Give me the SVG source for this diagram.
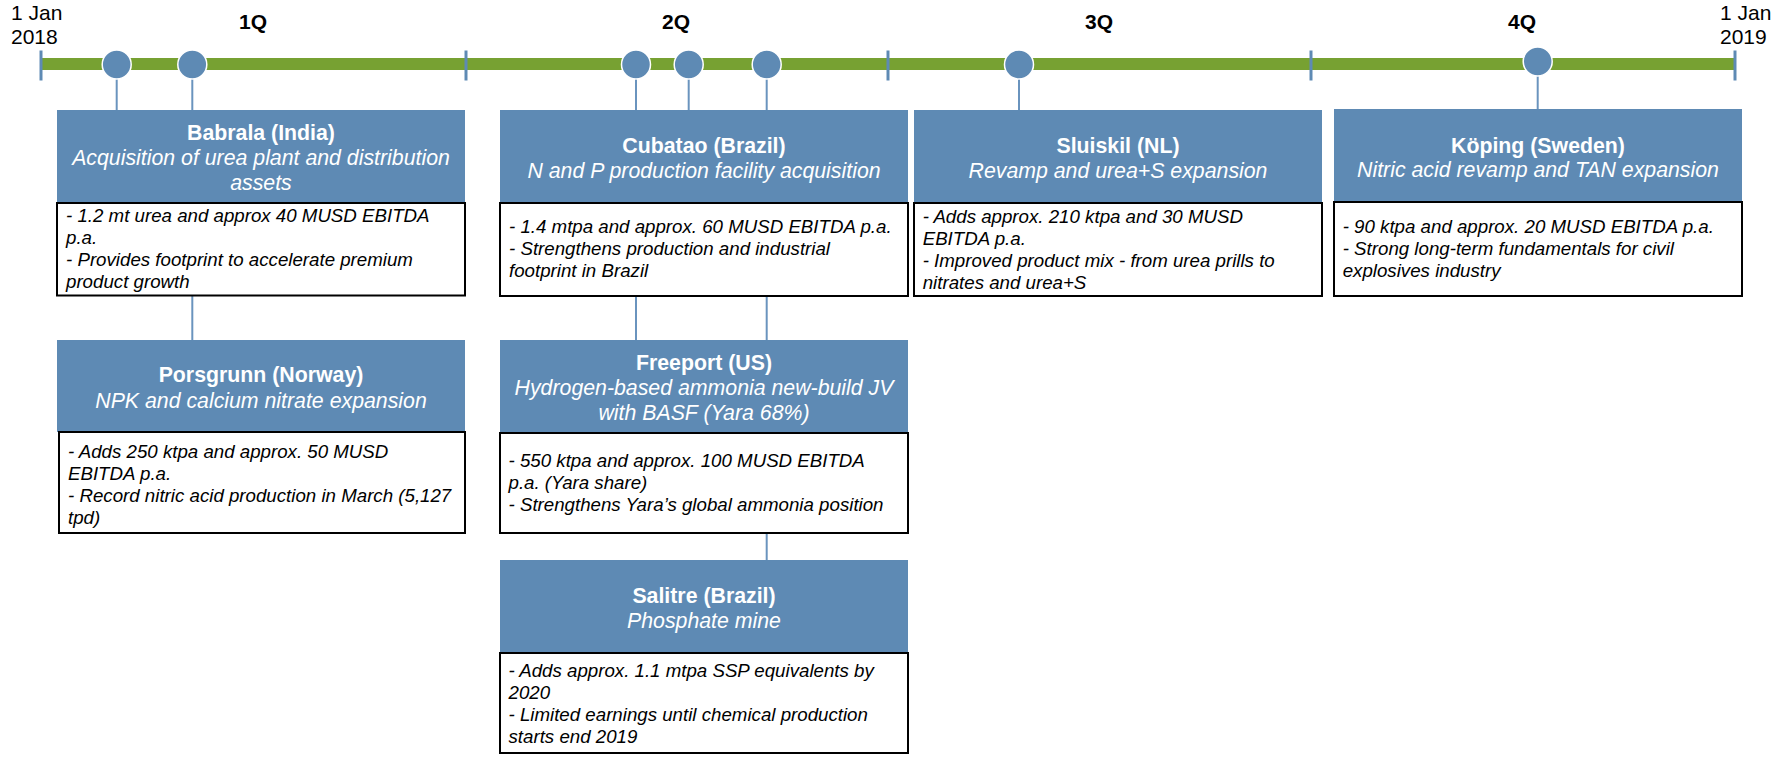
<svg xmlns="http://www.w3.org/2000/svg" width="1781" height="757" viewBox="0 0 1781 757">
<style>
text{font-family:"Liberation Sans",Arial,sans-serif}
.date{font-size:21px;fill:#000}
.q{font-size:21px;font-weight:bold;fill:#000;text-anchor:middle}
.hdr{fill:#5E8AB4}
.body{fill:#fff;stroke:#000;stroke-width:2}
.ttl{font-size:21.3px;font-weight:bold;fill:#fff;text-anchor:middle}
.sub{font-size:21.3px;font-style:italic;fill:#fff;text-anchor:middle}
.txt{font-size:18.7px;font-style:italic;fill:#000}
.tick{stroke:#5E8AB4;stroke-width:3}
.dot{fill:#5E8AB4;stroke:#fff;stroke-width:1.5}
.conn{stroke:#6A94BE;stroke-width:2;fill:none}
</style>
<rect width="1781" height="757" fill="#fff"/>
<g id="timeline">
<rect x="41" y="58" width="1694" height="12" fill="#77A132"/>
<line class="tick" x1="41" y1="50.5" x2="41" y2="80.5"/>
<line class="tick" x1="466" y1="50.5" x2="466" y2="80.5"/>
<line class="tick" x1="888" y1="50.5" x2="888" y2="80.5"/>
<line class="tick" x1="1311" y1="50.5" x2="1311" y2="80.5"/>
<line class="tick" x1="1735" y1="50.5" x2="1735" y2="80.5"/>
<text class="date" x="11" y="19.5">1 Jan</text>
<text class="date" x="11" y="44">2018</text>
<text class="date" x="1720" y="19.5">1 Jan</text>
<text class="date" x="1720" y="44">2019</text>
<text class="q" x="253" y="28.5">1Q</text>
<text class="q" x="676" y="28.5">2Q</text>
<text class="q" x="1099" y="28.5">3Q</text>
<text class="q" x="1522" y="28.5">4Q</text>
</g>
<g id="connectors">
<line class="conn" x1="116.7" y1="70" x2="116.7" y2="110"/>
<line class="conn" x1="192.3" y1="70" x2="192.3" y2="110"/>
<line class="conn" x1="192.3" y1="296" x2="192.3" y2="340"/>
<line class="conn" x1="636" y1="70" x2="636" y2="110"/>
<line class="conn" x1="688.7" y1="70" x2="688.7" y2="110"/>
<line class="conn" x1="766.7" y1="70" x2="766.7" y2="110"/>
<line class="conn" x1="636" y1="296" x2="636" y2="340"/>
<line class="conn" x1="766.7" y1="296" x2="766.7" y2="340"/>
<line class="conn" x1="766.7" y1="533" x2="766.7" y2="560"/>
<line class="conn" x1="1019" y1="70" x2="1019" y2="110"/>
<line class="conn" x1="1537.7" y1="70" x2="1537.7" y2="109"/>
</g>
<g id="milestones">
<circle class="dot" cx="116.7" cy="64.5" r="14.5"/>
<circle class="dot" cx="192.3" cy="64.5" r="14.5"/>
<circle class="dot" cx="636" cy="64.5" r="14.5"/>
<circle class="dot" cx="688.7" cy="64.5" r="14.5"/>
<circle class="dot" cx="766.7" cy="64.5" r="14.5"/>
<circle class="dot" cx="1019" cy="64.5" r="14.5"/>
<circle class="dot" cx="1537.7" cy="61.5" r="14.5"/>
</g>
<g id="babrala">
<rect class="hdr" x="57" y="110" width="408" height="93"/>
<text class="ttl" x="261" y="139.5">Babrala (India)</text>
<text class="sub" x="261" y="165">Acquisition of urea plant and distribution</text>
<text class="sub" x="261" y="190">assets</text>
<rect class="body" x="57" y="203" width="408" height="92.5"/>
<text class="txt" x="66" y="222">- 1.2 mt urea and approx 40 MUSD EBITDA</text>
<text class="txt" x="66" y="244">p.a.</text>
<text class="txt" x="66" y="266">- Provides footprint to accelerate premium</text>
<text class="txt" x="66" y="288">product growth</text>
</g>
<g id="porsgrunn">
<rect class="hdr" x="57" y="340" width="408" height="92"/>
<text class="ttl" x="261" y="381.5">Porsgrunn (Norway)</text>
<text class="sub" x="261" y="407.5">NPK and calcium nitrate expansion</text>
<rect class="body" x="59" y="432" width="406" height="101"/>
<text class="txt" x="68" y="458">- Adds 250 ktpa and approx. 50 MUSD</text>
<text class="txt" x="68" y="480">EBITDA p.a.</text>
<text class="txt" x="68" y="502">- Record nitric acid production in March (5,127</text>
<text class="txt" x="68" y="524">tpd)</text>
</g>
<g id="cubatao">
<rect class="hdr" x="500" y="110" width="408" height="93"/>
<text class="ttl" x="704" y="152.5">Cubatao (Brazil)</text>
<text class="sub" x="704" y="177.7">N and P production facility acquisition</text>
<rect class="body" x="500" y="203" width="408" height="93"/>
<text class="txt" x="509" y="233">- 1.4 mtpa and approx. 60 MUSD EBITDA p.a.</text>
<text class="txt" x="509" y="255">- Strengthens production and industrial</text>
<text class="txt" x="509" y="277">footprint in Brazil</text>
</g>
<g id="freeport">
<rect class="hdr" x="500" y="340" width="408" height="93"/>
<text class="ttl" x="704" y="369.5">Freeport (US)</text>
<text class="sub" x="704" y="395">Hydrogen-based ammonia new-build JV</text>
<text class="sub" x="704" y="419.5">with BASF (Yara 68%)</text>
<rect class="body" x="500" y="433" width="408" height="100"/>
<text class="txt" x="508.5" y="467">- 550 ktpa and approx. 100 MUSD EBITDA</text>
<text class="txt" x="508.5" y="489">p.a. (Yara share)</text>
<text class="txt" x="508.5" y="511">- Strengthens Yara’s global ammonia position</text>
</g>
<g id="salitre">
<rect class="hdr" x="500" y="560" width="408" height="93"/>
<text class="ttl" x="704" y="602.7">Salitre (Brazil)</text>
<text class="sub" x="704" y="628.3">Phosphate mine</text>
<rect class="body" x="500" y="653" width="408" height="100"/>
<text class="txt" x="508.5" y="677">- Adds approx. 1.1 mtpa SSP equivalents by</text>
<text class="txt" x="508.5" y="699">2020</text>
<text class="txt" x="508.5" y="721">- Limited earnings until chemical production</text>
<text class="txt" x="508.5" y="743">starts end 2019</text>
</g>
<g id="sluiskil">
<rect class="hdr" x="914" y="110" width="408" height="93"/>
<text class="ttl" x="1118" y="152.7">Sluiskil (NL)</text>
<text class="sub" x="1118" y="177.7">Revamp and urea+S expansion</text>
<rect class="body" x="914" y="203" width="408" height="93"/>
<text class="txt" x="922.7" y="223">- Adds approx. 210 ktpa and 30 MUSD</text>
<text class="txt" x="922.7" y="245">EBITDA p.a.</text>
<text class="txt" x="922.7" y="267">- Improved product mix - from urea prills to</text>
<text class="txt" x="922.7" y="289">nitrates and urea+S</text>
</g>
<g id="koping">
<rect class="hdr" x="1334" y="109" width="408" height="93"/>
<text class="ttl" x="1538" y="152.7">Köping (Sweden)</text>
<text class="sub" x="1538" y="176.7">Nitric acid revamp and TAN expansion</text>
<rect class="body" x="1334" y="202" width="408" height="94"/>
<text class="txt" x="1342.7" y="233">- 90 ktpa and approx. 20 MUSD EBITDA p.a.</text>
<text class="txt" x="1342.7" y="255">- Strong long-term fundamentals for civil</text>
<text class="txt" x="1342.7" y="277">explosives industry</text>
</g>
</svg>
